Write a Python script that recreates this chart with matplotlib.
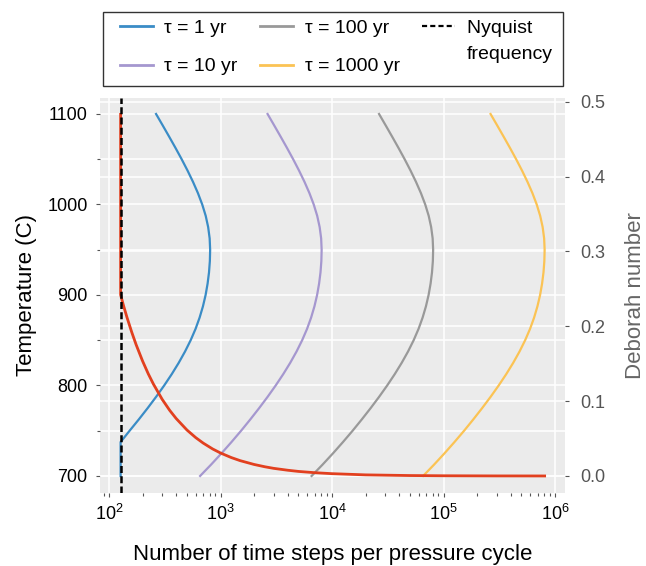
import numpy as np
import matplotlib
matplotlib.use("Agg")
import matplotlib.pyplot as plt
from matplotlib.lines import Line2D
from matplotlib.patches import Rectangle
from matplotlib.transforms import blended_transform_factory
from matplotlib.ticker import LogLocator, NullFormatter, FixedLocator, FormatStrFormatter

plt.rcParams['font.family'] = ['Liberation Sans', 'DejaVu Sans']
plt.rcParams['mathtext.fontset'] = 'custom'
plt.rcParams['mathtext.rm'] = 'Liberation Sans'
plt.rcParams['mathtext.it'] = 'Liberation Sans:italic'
plt.rcParams['mathtext.bf'] = 'Liberation Sans:bold'

# ---------------- data ----------------
temperature = [700, 712.5, 725, 737.5, 750, 762.5, 775, 787.5, 800, 812.5, 825,
               837.5, 850, 862.5, 875, 887.5, 900, 912.5, 925, 937.5, 950, 962.5,
               975, 987.5, 1000, 1012.5, 1025, 1037.5, 1050, 1062.5, 1075, 1087.5,
               1100]

steps_tau1 = [127, 127, 127, 127, 153.0, 185.0, 222.1, 264.6, 312.4, 365.1, 421.6,
              480.4, 539.7, 597.0, 649.3, 695.8, 734.9, 765.6, 788.5, 802.4, 807.2,
              799.1, 774.8, 736.3, 685.5, 627.5, 566.5, 506.0, 448.3, 394.7, 346.0,
              302.6, 264.2]
steps_tau10 = [656, 822, 1020, 1254, 1530, 1850, 2221, 2646, 3124, 3651, 4216,
               4805, 5397, 5970, 6494, 6958, 7349, 7656, 7885, 8024, 8072, 7991,
               7748, 7363, 6855, 6275, 5665, 5060, 4483, 3947, 3460, 3026, 2642]
steps_tau100 = [6560, 8220, 10200, 12540, 15300, 18500, 22210, 26460, 31240, 36510,
                42160, 48050, 53970, 59700, 64940, 69580, 73490, 76560, 78850,
                80240, 80720, 79910, 77480, 73630, 68550, 62750, 56650, 50600,
                44830, 39470, 34600, 30260, 26420]
steps_tau1000 = [65600, 82200, 102000, 125400, 153000, 185000, 222100, 264600,
                 312400, 365100, 421600, 480500, 539700, 597000, 649400, 695800,
                 734900, 765600, 788500, 802400, 807200, 799100, 774800, 736300,
                 685500, 627500, 566500, 506000, 448300, 394700, 346000, 302600,
                 264200]

nyquist_steps = 127

deborah_steps = [127, 127, 135, 145, 160, 175, 200, 225, 250, 300, 350, 400, 500,
                 600, 700, 850, 1000, 1250, 1500, 2000, 2500, 3000, 4000, 5000,
                 7000, 10000, 20000, 50000, 100000, 300000, 807000]
deborah_number = [0.483, 0.242, 0.2274, 0.2117, 0.1919, 0.1754, 0.1535, 0.1364,
                  0.1228, 0.1023, 0.0877, 0.0768, 0.0614, 0.0512, 0.0439, 0.0361,
                  0.0307, 0.0246, 0.0205, 0.0154, 0.0123, 0.0102, 0.0077, 0.0061,
                  0.0044, 0.0031, 0.0015, 0.0006, 0.0003, 0.0001, 0.00004]

series_labels = ["τ = 1 yr", "τ = 10 yr", "τ = 100 yr", "τ = 1000 yr"]
nyquist_label = ["Nyquist", "frequency"]
series_colors = ["#3a8cc6", "#a597cf", "#999999", "#fbc354"]
deborah_color = "#e2401f"

temp_ticks = [700, 800, 900, 1000, 1100]
temp_minor = [750, 850, 950, 1050]
deborah_ticks = [0.0, 0.1, 0.2, 0.3, 0.4, 0.5]
x_ticks = [1e2, 1e3, 1e4, 1e5, 1e6]

# ---------------- figure ----------------
W, H = 646, 566
fig = plt.figure(figsize=(W / 100, H / 100), dpi=100)
ax = fig.add_axes([0.1548, 0.1290, 0.7198, 0.6979])
ax.set_facecolor('#ebebeb')
for s in ax.spines.values():
    s.set_visible(False)
ax.set_xscale('log')

ax2 = ax.twinx()
for s in ax2.spines.values():
    s.set_visible(False)

# grid
ax.set_axisbelow(True)
ax.yaxis.set_major_locator(FixedLocator(temp_ticks))
ax.yaxis.set_minor_locator(FixedLocator(temp_minor))
ax.xaxis.set_major_locator(FixedLocator(x_ticks))
ax.xaxis.set_minor_locator(LogLocator(base=10, subs=range(2, 10), numticks=20))
ax.xaxis.set_minor_formatter(NullFormatter())
ax.grid(which='major', axis='x', color='white', lw=1.1)
ax.grid(which='both', axis='y', color='white', lw=1.1)
btr = blended_transform_factory(ax.transAxes, ax2.transData)
for v in deborah_ticks:
    ax.plot([0, 1], [v, v], transform=btr, color='white', lw=1.1, zorder=0.6)

# curves
ax.plot(steps_tau1, temperature, color=series_colors[0], lw=1.6, zorder=2)
ax.plot(steps_tau10, temperature, color=series_colors[1], lw=1.6, zorder=2)
ax.plot(steps_tau100, temperature, color=series_colors[2], lw=1.6, zorder=2)
ax.plot(steps_tau1000, temperature, color=series_colors[3], lw=1.6, zorder=2)

ax2.plot(deborah_steps, deborah_number, color=deborah_color, lw=2.0, zorder=2)
nyq = ax2.axvline(nyquist_steps, color='black', lw=1.8, zorder=3)
nyq.set_dashes([2.8, 1.3])

# limits
ax.set_xlim(83, 1.229e6)
ax.set_ylim(681.2, 1117.7)
ax2.set_ylim(-0.0227, 0.5049)

# ticks
ax.tick_params(axis='both', which='major', length=3, width=0.8, color='#555555',
               pad=6, labelsize=13, labelcolor='black')
ax.tick_params(axis='both', which='minor', length=2, width=0.8, color='#555555')
ax.tick_params(axis='x', which='major', labelsize=13, pad=5)
ax2.yaxis.set_major_locator(FixedLocator(deborah_ticks))
ax2.yaxis.set_major_formatter(FormatStrFormatter('%.1f'))
ax2.tick_params(axis='y', which='major', length=3, width=0.8, color='#555555',
                pad=8, labelsize=13, labelcolor='#555555')

ax.set_xlabel('Number of time steps per pressure cycle', fontsize=16, labelpad=14)
ax.set_ylabel('Temperature (C)', fontsize=16, labelpad=7)
ax2.set_ylabel('Deborah number', fontsize=16, color='#666666', labelpad=14)

# legend
handles = [Line2D([], [], color=c, lw=2) for c in series_colors]
handles.append(Line2D([], [], color='black', lw=1.6, linestyle=(0, (2.3, 1.4))))
labels = series_labels + [nyquist_label[0] + "    "]
leg = fig.legend(handles, labels, ncol=3, loc='center',
                 bbox_to_anchor=(336.7 / W, 1 - 47.5 / H), fontsize=14,
                 frameon=False, handlelength=1.7, handletextpad=0.6,
                 columnspacing=1.15, labelspacing=1.05, borderpad=0.0,
                 borderaxespad=0)

fig.canvas.draw()
renderer = fig.canvas.get_renderer()
nt = leg.get_texts()[4]
tb = nt.get_window_extent(renderer)
fig.text(tb.x0 / W, (tb.y0 - 26) / H, nyquist_label[1], fontsize=14,
         ha='left', va='bottom')
lb = leg.get_window_extent(renderer)
pad_l, pad_r, pad_top, pad_bot = 17, 9, 8, 11
fig.patches.append(Rectangle(((lb.x0 - pad_l) / W, (lb.y0 - pad_bot) / H),
                             (lb.width + pad_l + pad_r) / W,
                             (lb.height + pad_top + pad_bot) / H,
                             transform=fig.transFigure, fill=False,
                             edgecolor='#333333', lw=1.0))

fig.savefig('out.png', dpi=100)
